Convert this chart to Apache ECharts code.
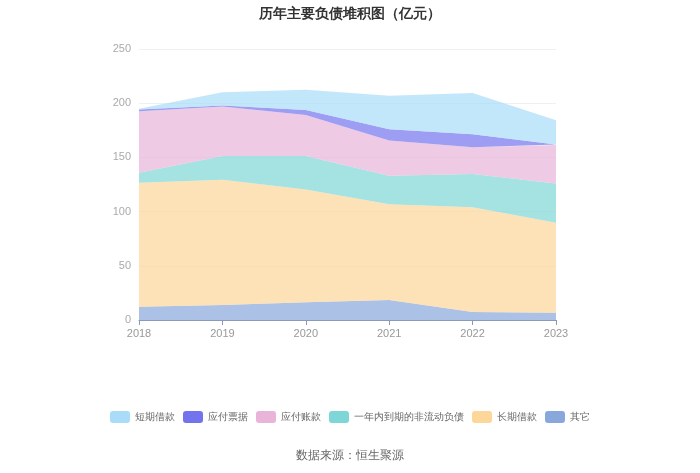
<!DOCTYPE html>
<html>
<head>
<meta charset="utf-8">
<script src="https://cdn.jsdelivr.net/npm/echarts@6/dist/echarts.min.js"></script>
<style>
  html, body { margin: 0; padding: 0; background: #fff; }
  #main { width: 700px; height: 473px; }
</style>
</head>
<body>
<div id="main"></div>
<script>
// 年份
var years = ['2018', '2019', '2020', '2021', '2022', '2023']

// 各项负债（亿元），自下而上堆积
var qita = [12.3, 13.9, 16.4, 18.5, 7.4, 6.8]
var changqiJiekuan = [114.2, 115.4, 104.0, 88.3, 96.6, 83.0]
var yinianDaoqi = [9.3, 21.9, 30.8, 26.2, 30.6, 36.1]
var yingfuZhangkuan = [56.8, 45.7, 38.0, 32.7, 24.7, 35.5]
var yingfuPiaoju = [1.5, 0.9, 4.6, 10.2, 12.0, 0.6]
var duanqiJiekuan = [0.7, 12.4, 18.5, 30.9, 38.0, 22.2]

var yTicks = [0, 50, 100, 150, 200, 250]

var colors = {
  短期借款: '#a8dcf8',
  应付票据: '#7373ee',
  应付账款: '#e8b4d8',
  一年内到期的非流动负债: '#7fd6d6',
  长期借款: '#fdd699',
  其它: '#88a8dc'
}

function area(name, data) {
  return {
    name: name,
    type: 'line',
    stack: 'total',
    data: data,
    symbol: 'none',
    color: colors[name],
    lineStyle: { width: 0 },
    areaStyle: { opacity: 0.7 }
  }
}

var chart = echarts.init(document.getElementById('main'))
chart.setOption({
  animation: false,
  title: {
    text: '历年主要负债堆积图（亿元）',
    left: 'center',
    top: 2,
    textStyle: { fontSize: 14, fontWeight: 'bold', color: '#333' }
  },
  graphic: [{
    type: 'text',
    left: 'center',
    top: 450,
    style: { text: '数据来源：恒生聚源', fontSize: 12, fill: '#666' }
  }],
  legend: {
    top: 406,
    left: 'center',
    itemWidth: 20,
    itemHeight: 12,
    itemGap: 8,
    icon: 'roundRect',
    textStyle: { fontSize: 10, color: '#666' },
    data: ['短期借款', '应付票据', '应付账款', '一年内到期的非流动负债', '长期借款', '其它']
  },
  grid: { left: 139, right: 144, top: 49, bottom: 153 },
  xAxis: {
    type: 'category',
    boundaryGap: false,
    data: years,
    axisLine: { lineStyle: { color: '#8a9ab8' } },
    axisTick: { show: true, alignWithLabel: true },
    axisLabel: { color: '#999', fontSize: 11 }
  },
  yAxis: {
    type: 'value',
    min: yTicks[0],
    max: yTicks[yTicks.length - 1],
    interval: 50,
    axisLine: { show: false },
    axisTick: { show: false },
    axisLabel: { color: '#aaa', fontSize: 11 },
    splitLine: { lineStyle: { color: '#eef0f4' } }
  },
  series: [
    area('其它', qita),
    area('长期借款', changqiJiekuan),
    area('一年内到期的非流动负债', yinianDaoqi),
    area('应付账款', yingfuZhangkuan),
    area('应付票据', yingfuPiaoju),
    area('短期借款', duanqiJiekuan)
  ]
})
</script>
</body>
</html>
